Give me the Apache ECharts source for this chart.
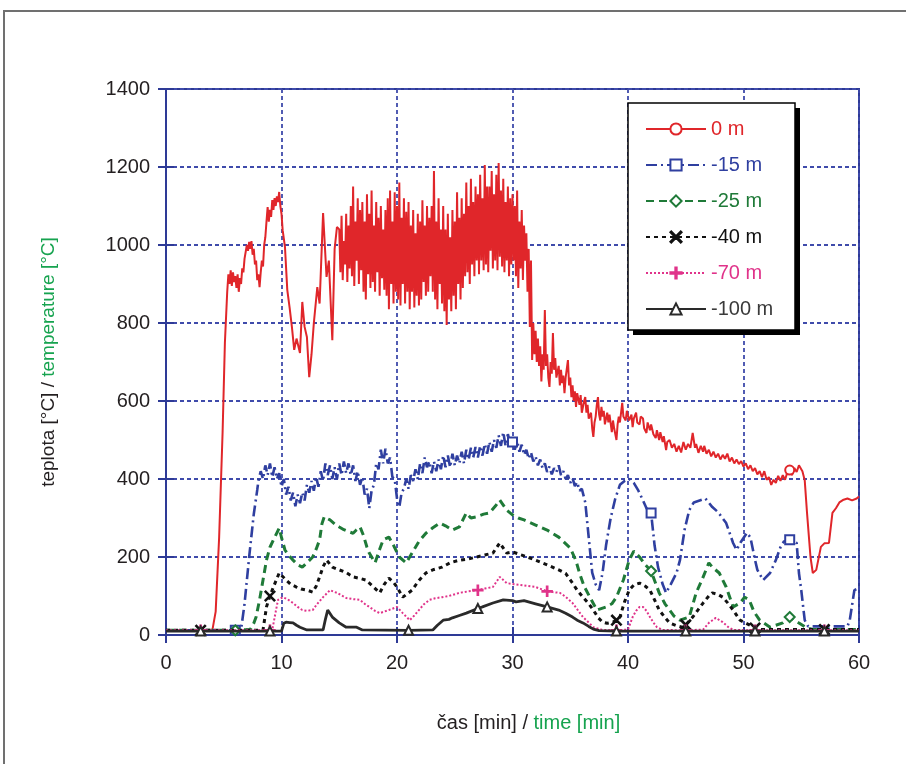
<!DOCTYPE html>
<html>
<head>
<meta charset="utf-8">
<script src="https://cdn.jsdelivr.net/npm/echarts@6/dist/echarts.min.js"></script>
<style>
  html, body { margin: 0; padding: 0; background: #fff; }
  #chart { width: 906px; height: 764px; }
</style>
</head>
<body>
<div id="chart"></div>
<script>
// Axis ranges (minutes / °C)
const timeMax = 60, timeStep = 10;
const tempMax = 1400, tempStep = 200;

const seriesNames = ['0 m', '-15 m', '-25 m', '-40 m', '-70 m', '-100 m'];

// Temperature readings [time in min, temperature in °C] per measuring depth
const depth0 = [
  [0,10],[2,10],[4,10],[4.3,60],[4.6,250],[4.9,520],[5.1,750],
  [5.3,880],[5.4,925],[5.5,900],[5.6,935],[5.7,895],[5.8,930],[5.9,905],[6.0,920],[6.1,890],[6.2,925],[6.3,880],[6.4,915],[6.5,900],[6.6,940],[6.7,930],[6.8,965],[6.9,960],[7.0,1000],[7.1,985],[7.2,1008],[7.3,990],[7.4,1010],[7.5,975],[7.6,990],[7.7,950],[7.8,960],[7.9,910],[8.0,925],[8.1,892],[8.2,930],[8.3,960],[8.4,945],[8.5,1000],[8.6,1020],[8.7,1060],[8.8,1097],[8.9,1060],[9.0,1090],[9.1,1072],[9.2,1115],[9.3,1090],[9.4,1120],[9.5,1100],[9.6,1125],[9.7,1110],[9.8,1136],[9.9,1100],
  [10.0,1080],[10.1,1038],[10.3,995],[10.5,885],[10.7,840],[10.9,790],[11.1,731],[11.3,760],[11.6,723],[11.8,854],[12.0,790],[12.2,764],[12.4,661],[12.6,720],[12.8,800],[13.1,892],[13.3,850],[13.6,1082],[13.9,918],[14.1,960],[14.4,756],[14.6,990],[14.8,1046],
  [15.0,1040],[15.1,930],[15.2,1075],[15.3,910],[15.4,1010],[15.5,950],[15.6,1080],[15.7,905],[15.8,1050],[15.9,940],
  [16.0,1100],[16.1,920],[16.2,1150],[16.3,895],[16.4,1060],[16.5,960],[16.6,1120],[16.7,900],[16.8,1090],[16.9,935],
  [17.0,1110],[17.1,880],[17.2,1060],[17.3,860],[17.4,1130],[17.5,925],[17.6,1080],[17.7,890],[17.8,1140],[17.9,905],
  [18.0,1050],[18.1,880],[18.2,1110],[18.3,930],[18.4,1070],[18.5,870],[18.6,1100],[18.7,915],[18.8,1040],[18.9,885],
  [19.0,1090],[19.1,870],[19.2,1120],[19.3,835],[19.4,1140],[19.5,900],[19.6,1060],[19.7,850],[19.8,1135],[19.9,880],
  [20.0,1100],[20.1,860],[20.2,1160],[20.3,845],[20.4,1070],[20.5,900],[20.6,1120],[20.7,850],[20.8,1085],[20.9,880],
  [21.0,1110],[21.1,835],[21.2,1050],[21.3,880],[21.4,1090],[21.5,840],[21.6,1030],[21.7,870],[21.8,1080],[21.9,845],
  [22.0,1060],[22.1,860],[22.2,1115],[22.3,905],[22.4,1050],[22.5,870],[22.6,1100],[22.7,880],[22.8,1070],[22.9,920],
  [23.0,1100],[23.1,880],[23.2,1190],[23.3,860],[23.4,1060],[23.5,835],[23.6,1120],[23.7,900],[23.8,1040],[23.9,850],
  [24.0,1100],[24.1,830],[24.2,1040],[24.3,795],[24.4,1080],[24.5,860],[24.6,1020],[24.7,830],[24.8,1090],[24.9,870],
  [25.0,1060],[25.1,835],[25.2,1135],[25.3,900],[25.4,1070],[25.5,860],[25.6,1120],[25.7,890],[25.8,1080],[25.9,920],
  [26.0,1160],[26.1,930],[26.2,1100],[26.3,900],[26.4,1170],[26.5,950],[26.6,1110],[26.7,920],[26.8,1150],[26.9,960],
  [27.0,1130],[27.1,925],[27.2,1180],[27.3,960],[27.4,1120],[27.5,935],[27.6,1205],[27.7,950],[27.8,1150],[27.9,930],
  [28.0,1150],[28.1,985],[28.2,1190],[28.3,940],[28.4,1130],[28.5,960],[28.6,1180],[28.7,935],[28.8,1210],[28.9,970],
  [29.0,1140],[29.1,945],[29.2,1170],[29.3,930],[29.4,1110],[29.5,960],[29.6,1150],[29.7,920],[29.8,1120],[29.9,950],
  [30.0,1130],[30.1,960],[30.2,1100],[30.3,920],[30.4,1140],[30.5,890],[30.6,1060],[30.7,940],[30.8,1090],[30.9,910],
  [31.0,1050],[31.1,960],[31.2,1030],[31.3,880],[31.4,990],[31.5,790],[31.6,960],[31.7,705],[31.8,800],[31.9,720],
  [32.0,780],[32.1,700],[32.2,760],[32.3,690],[32.4,740],[32.5,650],[32.6,720],[32.7,680],[32.8,833],[32.9,690],
  [33.0,720],[33.1,660],[33.2,636],[33.3,700],[33.4,670],[33.5,774],[33.6,680],[33.7,710],[33.8,660],[34.0,690],
  [34.1,640],[34.2,680],[34.3,646],[34.4,665],[34.5,620],[34.6,660],[34.8,705],[34.9,640],[35.0,660],[35.1,610],
  [35.2,640],[35.3,600],[35.4,625],[35.5,585],[35.6,620],[35.8,590],[35.9,615],[36.0,570],[36.2,600],[36.3,610],
  [36.4,570],[36.5,590],[36.6,555],[36.8,570],[36.9,530],[37.0,508],[37.1,545],[37.2,560],[37.3,590],[37.4,610],
  [37.5,565],[37.6,550],[37.7,585],[37.8,560],[37.9,575],[38.0,540],[38.2,570],[38.3,545],[38.4,565],[38.6,520],
  [38.7,550],[38.8,530],[39.0,500],[39.1,540],[39.2,560],[39.3,545],[39.5,595],[39.6,560],[39.8,550],[39.9,575],
  [40.0,580],[40.1,550],[40.2,545],[40.3,565],[40.4,533],[40.5,555],[40.7,570],[40.8,545],[41.0,540],[41.1,560],
  [41.3,555],[41.4,530],[41.6,518],[41.7,545],[41.9,525],[42.0,540],[42.2,515],[42.4,505],[42.5,525],[42.7,500],
  [42.8,520],[43.0,495],[43.1,510],[43.3,474],[43.4,495],[43.6,500],[43.8,480],[44.0,490],[44.2,470],[44.4,485],
  [44.6,468],[44.8,495],[45.0,475],[45.2,490],[45.4,480],[45.6,518],[45.8,480],[45.9,490],[46.1,467],[46.3,485],
  [46.5,470],[46.6,485],[46.8,465],[47.0,475],[47.2,458],[47.4,470],[47.6,455],[47.8,465],[48.0,450],[48.2,462],
  [48.4,452],[48.6,465],[48.8,445],[49.0,455],[49.2,440],[49.4,450],[49.6,438],[49.8,446],[50.0,432],[50.2,440],
  [50.4,425],[50.6,435],[50.8,420],[51.0,428],[51.2,412],[51.4,420],[51.6,405],[51.8,420],[52.0,398],[52.2,405],
  [52.4,385],[52.5,380],[52.6,398],[52.8,390],[53.0,408],[53.2,395],[53.4,410],[53.6,398],[53.8,418],[54.0,423],
  [54.2,410],[54.4,428],[54.6,418],[54.8,435],[54.9,431],[55.1,420],[55.3,397],[55.5,313],[55.8,200],[56.0,159],
  [56.3,167],[56.7,226],[57.0,235],[57.4,236],[57.7,313],[58.0,325],[58.3,340],[58.6,346],[59.0,350],[59.4,345],[59.8,350],[60,355]
];
const depth15 = [
  [0,12],[3,12],[6,12],[6.5,14],[6.8,80],[7.2,200],[7.6,310],[7.9,372],
  [8.0,395],[8.2,420],[8.4,400],[8.6,435],[8.8,410],[9.0,440],[9.2,405],[9.4,430],[9.6,400],[9.8,415],
  [10.0,380],[10.2,400],[10.4,360],[10.6,380],[10.8,345],[11.0,365],[11.2,330],[11.4,360],[11.6,338],[11.8,365],
  [12.0,345],[12.2,385],[12.4,365],[12.6,395],[12.8,370],[13.0,405],[13.2,380],[13.4,420],[13.6,395],[13.8,440],
  [14.0,410],[14.2,435],[14.4,400],[14.6,430],[14.8,400],[15.0,440],[15.2,410],[15.4,445],[15.6,415],[15.8,440],
  [16.0,410],[16.2,435],[16.4,395],[16.6,420],[16.8,385],[17.0,405],[17.2,360],[17.4,375],[17.6,325],[17.8,370],
  [18.0,385],[18.2,440],[18.4,425],[18.6,475],[18.8,440],[19.0,478],[19.2,440],[19.4,455],[19.6,405],[19.8,400],
  [20.0,350],[20.2,328],[20.4,365],[20.6,375],[20.8,400],[21.0,375],[21.2,410],[21.4,395],[21.6,425],[21.8,400],
  [22.0,440],[22.2,415],[22.4,455],[22.6,430],[22.8,445],[23.0,415],[23.2,445],[23.4,420],[23.6,450],[23.8,425],
  [24.0,460],[24.2,430],[24.4,460],[24.6,430],[24.8,465],[25.0,435],[25.2,460],[25.4,440],[25.6,470],[25.8,440],
  [26.0,475],[26.2,450],[26.4,480],[26.6,455],[26.8,482],[27.0,455],[27.2,485],[27.4,460],[27.6,490],[27.8,465],
  [28.0,495],[28.2,470],[28.4,500],[28.6,480],[28.8,512],[29.0,485],[29.2,520],[29.4,485],[29.6,515],[29.8,490],
  [30.0,495],[30.2,475],[30.4,498],[30.6,470],[30.8,488],[31.0,462],[31.2,475],[31.4,452],[31.6,468],[31.8,445],
  [32.0,458],[32.2,435],[32.4,450],[32.6,428],[32.8,440],[33.0,418],[33.2,432],[33.4,412],[33.6,428],[33.8,418],
  [34.0,435],[34.2,410],[34.4,420],[34.6,400],[34.8,410],[35.0,390],[35.2,402],[35.4,382],[35.6,392],[35.8,370],
  [36.0,375],[36.3,340],[36.6,250],[36.9,160],[37.2,130],[37.5,115],[37.8,160],[38.1,230],[38.5,300],[38.9,350],[39.3,385],[39.7,395],[40.1,400],[40.5,390],[40.9,370],[41.3,345],[41.6,325],[42.0,313],[42.3,230],[42.6,174],[43.0,130],[43.3,108],[43.7,130],[44.2,159],[44.5,192],[44.9,270],[45.3,320],[45.7,340],[46.2,345],[46.7,350],[47.3,328],[47.8,315],[48.5,287],[49.1,236],[49.4,218],[49.8,240],[50.3,262],[50.6,250],[51.0,192],[51.2,167],[51.7,141],[52.3,159],[52.8,192],[53.2,225],[53.5,240],[54.0,244],[54.6,236],[54.8,159],[55.0,115],[55.3,38],[55.6,22],[57.0,22],[59.0,22],[59.2,38],[59.6,115],[60,120]
];
const depth25 = [
  [0,12],[3,12],[6,12],[7.3,14],[7.6,30],[7.8,46],[8.1,90],[8.4,141],[8.7,192],[9.0,225],[9.3,244],[9.6,262],[9.8,274],[10.0,250],[10.3,218],[10.6,205],[11.0,192],[11.4,180],[11.8,174],[12.2,185],[12.7,200],[13.0,220],[13.3,244],[13.5,285],[13.7,303],[14.0,298],[14.2,295],[14.6,285],[15.0,277],[15.4,270],[15.8,265],[16.2,261],[16.5,270],[16.8,277],[17.1,255],[17.4,225],[17.6,210],[18.1,185],[18.5,220],[18.8,244],[19.3,251],[19.7,230],[20.2,200],[20.8,185],[21.3,210],[21.9,240],[22.5,261],[23.1,275],[23.7,287],[24.2,280],[24.8,269],[25.4,277],[26.0,313],[26.4,300],[26.9,303],[27.5,310],[28.0,313],[28.5,330],[28.9,346],[29.5,320],[30.0,308],[30.5,300],[31.0,295],[32.0,282],[33.0,269],[34.0,251],[35.0,223],[35.5,190],[35.8,159],[36.2,125],[36.7,97],[37.3,64],[38.1,72],[38.6,80],[39.0,97],[39.6,141],[40.1,192],[40.5,215],[41.0,200],[41.5,180],[42.0,164],[42.3,140],[42.7,108],[43.2,80],[43.6,64],[44.0,48],[44.5,38],[45.3,46],[45.9,108],[46.4,141],[47.0,185],[47.3,174],[47.9,159],[48.5,123],[49.1,72],[49.7,82],[50.1,97],[50.5,90],[50.9,60],[51.4,38],[52.3,20],[52.8,25],[53.4,31],[54.0,46],[54.8,31],[55.5,18],[56.0,14],[60,14]
];
const depth40 = [
  [0,12],[3,12],[8.0,12],[8.4,13],[8.7,72],[9.0,100],[9.3,123],[9.8,159],[10.1,150],[10.4,141],[10.8,130],[11.3,123],[11.7,118],[12.2,115],[12.7,110],[13.0,125],[13.3,149],[13.6,175],[13.9,192],[14.4,174],[15.0,167],[15.6,160],[16.2,149],[16.8,145],[17.3,141],[17.9,125],[18.5,108],[18.9,130],[19.3,146],[19.7,135],[20.0,123],[20.5,97],[21.0,108],[21.3,115],[21.9,140],[22.5,159],[23.2,168],[23.9,174],[24.6,185],[25.4,192],[26.2,195],[26.9,200],[27.6,205],[28.3,210],[28.9,236],[29.5,210],[30.0,213],[31.0,203],[32.0,192],[33.0,180],[34.0,167],[34.6,158],[35.2,133],[35.6,115],[36.1,97],[36.6,80],[37.0,64],[37.4,45],[37.8,33],[38.2,30],[38.7,33],[39.0,38],[39.3,46],[39.7,85],[40.1,115],[40.5,128],[41.0,133],[41.5,125],[41.9,115],[42.3,90],[42.7,64],[43.2,45],[43.6,31],[44.2,24],[44.7,20],[45.0,26],[45.6,46],[46.0,62],[46.5,82],[47.0,100],[47.3,108],[47.8,104],[48.2,97],[48.7,80],[49.1,64],[49.7,38],[50.5,26],[51.0,18],[51.5,14],[57.0,14],[60,14]
];
const depth70 = [
  [0,12],[3,12],[9.0,12],[9.2,13],[9.5,60],[9.7,90],[10.1,97],[10.5,92],[11.0,82],[11.4,72],[11.8,64],[12.2,62],[12.7,64],[13.1,80],[13.6,97],[14.2,115],[14.8,108],[15.6,95],[16.2,92],[16.8,90],[17.2,80],[17.6,72],[18.1,62],[18.5,56],[18.9,60],[19.3,64],[20.0,72],[20.5,56],[21.1,38],[21.5,50],[21.9,64],[22.3,78],[22.8,90],[23.3,94],[23.9,97],[24.5,100],[25.4,108],[26.2,112],[27.0,115],[27.6,119],[28.3,123],[28.9,149],[29.5,133],[30.0,131],[31.0,127],[32.0,123],[33.0,112],[33.5,110],[34.1,108],[34.6,98],[35.2,82],[35.7,62],[36.1,46],[36.6,32],[37.0,20],[37.8,13],[39.0,12],[40.0,14],[40.4,46],[40.7,62],[41.0,72],[41.3,72],[41.6,62],[41.9,46],[42.2,32],[42.5,20],[43.0,13],[45.0,12],[46.5,14],[47.0,31],[47.6,44],[48.2,33],[48.7,20],[49.1,13],[51.0,12],[57.0,12],[60,12]
];
const depth100 = [
  [0,10],[3,10],[9,10],[10.0,10],[10.2,30],[10.4,33],[10.7,32],[11.0,31],[11.3,25],[11.6,20],[12.2,13],[13.6,13],[13.8,40],[14.0,64],[14.4,46],[15.0,31],[15.6,20],[16.5,20],[17.0,13],[21.0,12],[23.1,13],[23.5,25],[24.0,38],[24.5,40],[24.8,44],[25.4,50],[26.0,56],[27.0,68],[27.4,72],[28.3,82],[29.2,90],[30.0,88],[30.3,85],[31.0,88],[32.0,80],[33.0,72],[34.0,64],[34.6,56],[35.2,46],[35.6,38],[36.1,31],[36.6,22],[37.0,15],[37.5,11],[39,10],[45,10],[51,10],[57,10],[60,10]
];

// Times at which each curve carries its marker symbol
const markTimes0 = [54];
const markTimes15 = [6, 30, 42, 54];
const markTimes25 = [6, 42, 54];
const markTimes40 = [3, 9, 39, 45, 51, 57];
const markTimes70 = [3, 9, 27, 33, 39, 45, 51, 57];
const markTimes100 = [3, 9, 21, 27, 33, 39, 45, 51, 57];

const crossPath = 'path://M0,0.8L0.8,0L5,4.2L9.2,0L10,0.8L5.8,5L10,9.2L9.2,10L5,5.8L0.8,10L0,9.2L4.2,5Z';
const plusPath = 'path://M4.4,0H5.6V4.4H10V5.6H5.6V10H4.4V5.6H0V4.4H4.4Z';

function withMarkers(points, times) {
  return points.map(p => times.indexOf(p[0]) >= 0 ? { value: p } : { value: p, symbol: 'none' });
}

const FONT = '"Liberation Sans", Arial, Helvetica, sans-serif';
const frameBlue = '#2e3a96';
const gridBlue = '#3f4bab';
const greenText = '#16a34f';

const styles = [
  { data: depth0,   marks: markTimes0,   color: '#e0262a', width: 2,   type: 'solid',       symbol: 'emptyCircle',   size: 9 },
  { data: depth15,  marks: markTimes15,  color: '#2f3fa0', width: 2.6, type: [11, 4, 2, 4], symbol: 'emptyRect',     size: 9 },
  { data: depth25,  marks: markTimes25,  color: '#1f7a38', width: 3,   type: [8, 5],        symbol: 'emptyDiamond',  size: 10 },
  { data: depth40,  marks: markTimes40,  color: '#111111', width: 3,   type: [4, 4],        symbol: crossPath,       size: 10 },
  { data: depth70,  marks: markTimes70,  color: '#e0338a', width: 2,   type: [2, 2],        symbol: plusPath,        size: 10 },
  { data: depth100, marks: markTimes100, color: '#2a2a2a', width: 2.8, type: 'solid',       symbol: 'emptyTriangle', size: 9 }
];
const legendTextColors = ['#e0262a', '#2f3fa0', '#1f7a38', '#111111', '#e0338a', '#3a3a3a'];

const chart = echarts.init(document.getElementById('chart'), null, { renderer: 'canvas' });

const series = styles.map((s, i) => ({
  name: seriesNames[i],
  type: 'line',
  data: withMarkers(s.data, s.marks),
  symbol: s.symbol,
  symbolSize: s.size,
  showSymbol: true,
  smooth: false,
  animation: false,
  lineStyle: { color: s.color, width: s.width, type: s.type },
  itemStyle: { color: s.color, borderColor: s.color, borderWidth: 1.5 },
  emphasis: { disabled: true },
  z: 3 + i
}));

// Legend frame: white box with a hard black drop shadow
const legendBox = { x: 628, y: 103, w: 167, h: 227 };

chart.setOption({
  backgroundColor: '#ffffff',
  animation: false,
  textStyle: { fontFamily: FONT },
  graphic: [{
    type: 'polyline',
    shape: { points: [[4, 764], [4, 11], [906, 11]] },
    style: { stroke: '#707070', lineWidth: 2, fill: null },
    silent: true
  }, {
    type: 'rect', z: 20,
    shape: { x: legendBox.x + 5, y: legendBox.y + 5, width: legendBox.w, height: legendBox.h },
    style: { fill: '#000' },
    silent: true
  }, {
    type: 'rect', z: 21,
    shape: { x: legendBox.x, y: legendBox.y, width: legendBox.w, height: legendBox.h },
    style: { fill: '#fff', stroke: '#000', lineWidth: 1.5 },
    silent: true
  }],
  grid: {
    left: 166, right: 47, top: 89, bottom: 129,
    show: true, borderColor: frameBlue, borderWidth: 2, backgroundColor: '#fff'
  },
  legend: {
    z: 30,
    orient: 'vertical',
    left: 629, top: 104,
    padding: [15, 10, 14, 16],
    itemWidth: 60, itemHeight: 14, itemGap: 16,
    selectedMode: false,
    textStyle: { fontFamily: FONT, fontSize: 20 },
    data: seriesNames.map((n, i) => ({ name: n, textStyle: { color: legendTextColors[i] } }))
  },
  xAxis: [{
    type: 'value', min: 0, max: timeMax, interval: timeStep,
    name: '{a|čas [min] / }{b|time [min]}',
    nameLocation: 'middle', nameGap: 78,
    nameTextStyle: {
      padding: [0, 0, 0, 32],
      rich: {
        a: { fontFamily: FONT, fontSize: 20, color: '#231f20' },
        b: { fontFamily: FONT, fontSize: 20, color: greenText }
      }
    },
    axisLine: { show: true, lineStyle: { color: frameBlue, width: 2 } },
    axisTick: { show: true, inside: true, length: 8, lineStyle: { color: frameBlue, width: 2 } },
    axisLabel: { margin: 18, fontSize: 20, color: '#231f20', fontFamily: FONT },
    splitLine: { show: true, lineStyle: { color: gridBlue, width: 1.8, type: [4, 3] } }
  }, {
    type: 'value', min: 0, max: timeMax, interval: timeStep, position: 'top',
    axisLine: { show: false },
    axisTick: { show: true, inside: true, length: 8, lineStyle: { color: frameBlue, width: 2 } },
    axisLabel: { show: false }, splitLine: { show: false }
  }],
  yAxis: [{
    type: 'value', min: 0, max: tempMax, interval: tempStep,
    name: '{a|teplota [°C] / }{b|temperature [°C]}',
    nameLocation: 'middle', nameGap: 108,
    nameTextStyle: {
      rich: {
        a: { fontFamily: FONT, fontSize: 19, color: '#231f20' },
        b: { fontFamily: FONT, fontSize: 19, color: greenText }
      }
    },
    axisLine: { show: true, lineStyle: { color: frameBlue, width: 2 } },
    axisTick: { show: true, inside: true, length: 8, lineStyle: { color: frameBlue, width: 2 } },
    axisLabel: { margin: 16, fontSize: 20, color: '#231f20', fontFamily: FONT, formatter: v => String(v) },
    splitLine: { show: true, lineStyle: { color: gridBlue, width: 1.8, type: [4, 3] } }
  }, {
    type: 'value', min: 0, max: tempMax, interval: tempStep, position: 'right',
    axisLine: { show: false },
    axisTick: { show: true, inside: true, length: 8, lineStyle: { color: frameBlue, width: 2 } },
    axisLabel: { show: false }, splitLine: { show: false }
  }],
  series: series
});
</script>
</body>
</html>
